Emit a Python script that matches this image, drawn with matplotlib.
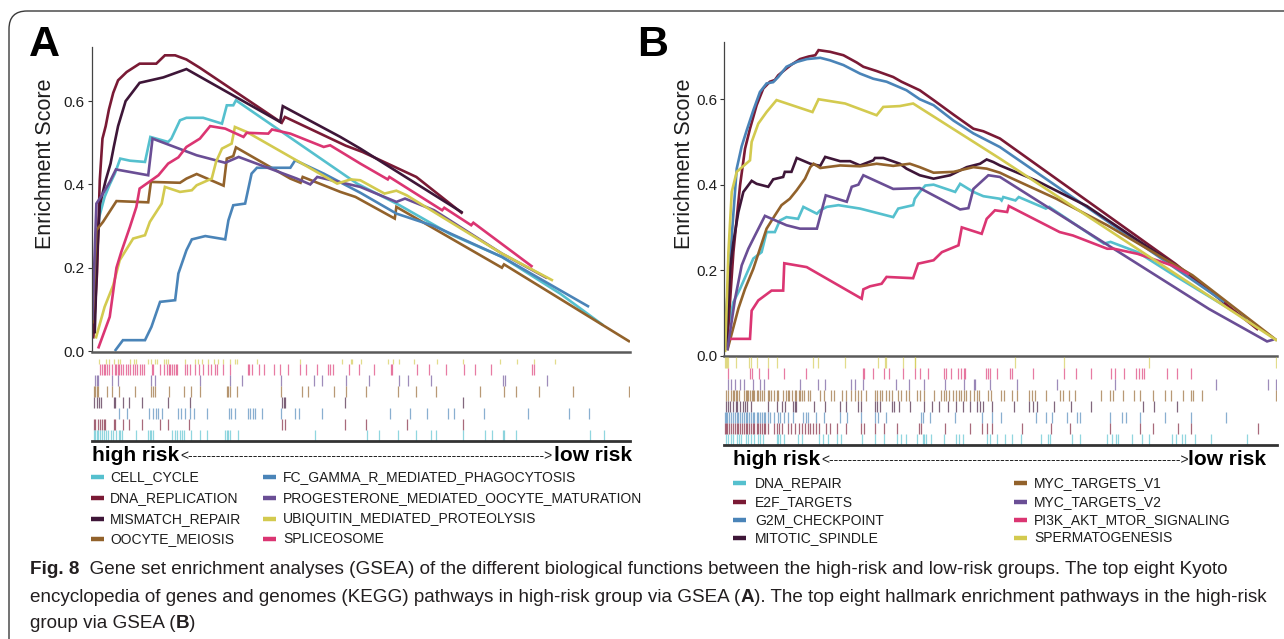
import matplotlib.pyplot as plt
from matplotlib.patches import FancyBboxPatch
from matplotlib import font_manager

plt.rcParams['font.family'] = ['Liberation Sans', 'DejaVu Sans']

# x values are position in the ranked gene list (% of list), y values are enrichment scores
# ---------------- panel A : KEGG ----------------
a_names = ["CELL_CYCLE", "DNA_REPLICATION", "MISMATCH_REPAIR", "OOCYTE_MEIOSIS",
           "FC_GAMMA_R_MEDIATED_PHAGOCYTOSIS", "PROGESTERONE_MEDIATED_OOCYTE_MATURATION",
           "UBIQUITIN_MEDIATED_PROTEOLYSIS", "SPLICEOSOME"]

a_cell_cycle_x = [0.1, 0.75, 1.4, 2.4, 3.35, 4.3, 5.3, 7.1, 9.9, 10.9, 14.2, 14.8, 16.4, 17.6, 20.7,
                  24.2, 25.1, 26.3, 26.8, 49.3, 57.2, 66.7, 76.2, 87.0, 95.0]
a_cell_cycle_es = [0.03, 0.234, 0.322, 0.37, 0.40, 0.426, 0.462, 0.457, 0.454, 0.514, 0.502, 0.51, 0.554,
                   0.56, 0.56, 0.546, 0.59, 0.59, 0.602, 0.402, 0.35, 0.28, 0.226, 0.138, 0.062]
a_dna_rep_x = [0.3, 1.0, 1.5, 2.0, 2.6, 3.2, 4.0, 4.9, 6.5, 8.9, 12.0, 13.6, 15.5, 17.6, 20.1, 35.3,
               35.9, 47.2, 50.3, 60.3, 68.9]
a_dna_rep_es = [0.03, 0.19, 0.41, 0.51, 0.54, 0.58, 0.62, 0.65, 0.67, 0.69, 0.69, 0.71, 0.71, 0.70,
                0.68, 0.548, 0.562, 0.493, 0.478, 0.418, 0.33]
a_mismatch_x = [0.56, 1.0, 1.5, 2.6, 3.5, 4.1, 4.9, 6.3, 8.9, 13.3, 17.6, 35.0, 35.5, 46.2, 49.9, 68.9]
a_mismatch_es = [0.042, 0.226, 0.35, 0.41, 0.45, 0.49, 0.54, 0.60, 0.644, 0.657, 0.677, 0.55, 0.588,
                 0.514, 0.486, 0.332]
a_oocyte_x = [0.13, 0.87, 2.1, 4.6, 10.5, 11.0, 16.4, 17.6, 19.5, 24.5, 25.1, 26.3, 26.8, 36.9, 38.8,
              39.2, 46.2, 49.0, 56.3, 56.6, 76.2, 76.6, 100.0]
a_oocyte_es = [0.066, 0.29, 0.31, 0.36, 0.357, 0.406, 0.404, 0.414, 0.425, 0.397, 0.462, 0.468, 0.489,
               0.414, 0.404, 0.418, 0.382, 0.37, 0.318, 0.346, 0.20, 0.208, 0.022]
a_fc_gamma_x = [4.3, 5.8, 9.9, 11.1, 12.7, 15.5, 16.1, 17.6, 18.6, 21.1, 24.8, 25.4, 26.3, 28.5, 29.7,
                30.7, 36.9, 37.8, 43.1, 49.9, 56.6, 63.6, 76.2, 92.4]
a_fc_gamma_es = [0.0, 0.026, 0.026, 0.058, 0.118, 0.122, 0.186, 0.242, 0.268, 0.276, 0.268, 0.314, 0.35,
                 0.354, 0.426, 0.44, 0.44, 0.458, 0.426, 0.38, 0.33, 0.30, 0.226, 0.106]
a_progest_x = [0.13, 0.87, 2.1, 3.35, 4.5, 10.5, 11.3, 19.5, 24.8, 27.3, 38.1, 40.6, 41.9, 49.9, 56.6,
               58.2, 63.6, 76.2, 84.6]
a_progest_es = [0.074, 0.354, 0.378, 0.406, 0.436, 0.422, 0.51, 0.47, 0.452, 0.466, 0.414, 0.40, 0.418,
                0.394, 0.358, 0.366, 0.338, 0.234, 0.175]
a_ubiquitin_x = [0.75, 2.4, 4.0, 5.2, 7.7, 9.9, 10.8, 13.0, 13.6, 16.4, 18.6, 19.5, 22.3, 23.1, 24.2,
                 26.0, 26.6, 28.8, 45.6, 48.1, 49.9, 54.4, 56.6, 58.5, 76.2, 85.7]
a_ubiquitin_es = [0.03, 0.106, 0.158, 0.218, 0.27, 0.278, 0.31, 0.354, 0.394, 0.382, 0.386, 0.398, 0.414,
                  0.454, 0.486, 0.498, 0.538, 0.526, 0.402, 0.412, 0.41, 0.378, 0.385, 0.374, 0.234, 0.169]
a_splice_x = [1.2, 3.35, 4.6, 5.5, 7.1, 8.3, 8.9, 11.1, 12.4, 14.2, 16.1, 17.6, 20.1, 22.0, 24.8, 28.2,
              28.8, 32.8, 33.5, 36.9, 43.1, 44.3, 49.9, 55.0, 55.3, 65.1, 65.5, 70.5, 70.9, 81.9]
a_splice_es = [0.006, 0.082, 0.20, 0.238, 0.298, 0.346, 0.39, 0.41, 0.422, 0.45, 0.465, 0.49, 0.51, 0.54,
               0.534, 0.514, 0.524, 0.522, 0.532, 0.522, 0.49, 0.494, 0.45, 0.412, 0.418, 0.338, 0.344,
               0.302, 0.308, 0.202]

a_cell_cycle_hits = [0.4, 0.7, 1.0, 1.2, 1.5, 1.9, 2.2, 2.7, 3.0, 3.5, 4.0, 4.5, 5.0, 5.3, 5.7, 8.3, 10.5,
                     10.8, 11.0, 11.4, 14.9, 15.5, 15.9, 16.4, 16.8, 17.2, 18.4, 20.2, 21.5, 24.8, 25.1,
                     25.4, 25.7, 27.2, 41.4, 51.2, 53.4, 56.9, 60.2, 63.0, 64.0, 68.9, 73.0, 74.3, 76.4,
                     76.6, 78.9, 92.6, 95.1]
a_dna_rep_hits = [0.4, 0.7, 1.1, 1.5, 1.9, 2.2, 2.5, 4.2, 4.4, 5.8, 7.0, 9.4, 12.7, 14.2, 18.1, 35.4,
                  35.9, 47.0, 51.0, 58.6, 68.9]
a_mismatch_hits = [0.4, 0.9, 1.3, 1.7, 4.2, 4.4, 5.8, 7.0, 9.4, 14.2, 18.2, 35.4, 35.7, 36.0, 47.0, 68.9]
a_oocyte_hits = [0.4, 0.7, 1.0, 1.2, 2.8, 3.8, 5.0, 8.1, 11.0, 11.4, 11.7, 14.3, 17.2, 18.4, 20.2, 25.1,
                 25.4, 25.7, 27.0, 35.2, 39.0, 40.1, 45.0, 47.3, 50.9, 56.9, 60.2, 64.0, 72.2, 76.6,
                 78.9, 83.1, 89.4, 99.9]
a_fc_gamma_hits = [5.0, 6.6, 10.7, 11.4, 12.0, 12.3, 13.0, 16.1, 16.6, 17.4, 18.2, 19.0, 21.5, 25.5,
                   25.9, 26.6, 29.0, 29.5, 30.0, 30.3, 31.6, 35.2, 37.8, 38.5, 42.7, 55.5, 59.1, 62.2,
                   66.1, 67.3, 72.8, 81.0, 88.7, 92.4]
a_progest_hits = [0.6, 0.9, 1.2, 3.7, 4.8, 11.0, 11.8, 20.2, 25.7, 28.0, 35.2, 41.3, 42.7, 47.3, 51.6,
                  57.1, 58.8, 63.0, 76.4, 76.7, 84.6]
a_ubiquitin_hits = [1.3, 2.7, 3.2, 4.2, 4.8, 5.3, 7.1, 7.8, 8.3, 10.4, 11.0, 11.7, 12.2, 13.5, 13.8,
                    14.2, 17.4, 19.2, 19.7, 20.5, 21.6, 22.8, 23.4, 24.4, 25.7, 26.7, 27.0, 30.8, 38.7,
                    46.5, 48.2, 48.4, 50.1, 55.0, 56.0, 57.1, 59.9, 64.1, 68.9, 75.8, 79.0, 82.2, 86.1]
a_splice_hits = [1.5, 1.9, 2.2, 2.5, 2.8, 3.3, 3.7, 4.4, 4.6, 4.9, 5.1, 5.5, 5.8, 6.3, 6.8, 7.1, 7.6,
                 8.1, 8.5, 8.9, 9.4, 9.7, 11.2, 11.4, 12.7, 13.5, 13.9, 14.3, 14.6, 14.9, 15.3, 15.6,
                 15.9, 17.4, 17.7, 18.2, 19.2, 20.0, 20.7, 21.6, 22.1, 22.9, 23.3, 24.4, 25.7, 29.0,
                 29.3, 29.7, 31.1, 32.0, 33.8, 34.9, 36.5, 38.7, 39.9, 41.8, 43.9, 44.2, 44.9, 47.8,
                 49.7, 52.4, 55.6, 55.8, 60.4, 62.7, 65.8, 69.1, 71.2, 74.1, 81.8, 82.2]

# ---------------- panel B : hallmark ----------------
b_names = ["DNA_REPAIR", "E2F_TARGETS", "G2M_CHECKPOINT", "MITOTIC_SPINDLE",
           "MYC_TARGETS_V1", "MYC_TARGETS_V2", "PI3K_AKT_MTOR_SIGNALING", "SPERMATOGENESIS"]

b_dna_repair_x = [0.4, 1.7, 2.9, 5.3, 6.8, 7.7, 9.2, 10.1, 11.3, 13.4, 14.35, 16.8, 17.4, 18.6, 20.7,
                  24.6, 27.0, 30.6, 31.5, 34.2, 34.5, 35.4, 36.4, 37.9, 41.8, 42.7, 45.1, 46.9, 49.9,
                  50.2, 50.5, 52.7, 53.3, 58.2, 58.8, 68.7, 69.9, 74.8, 81.0, 94.5]
b_dna_repair_es = [0.047, 0.125, 0.156, 0.227, 0.242, 0.289, 0.289, 0.316, 0.324, 0.32, 0.348, 0.332,
                   0.34, 0.348, 0.352, 0.344, 0.336, 0.324, 0.344, 0.352, 0.367, 0.383, 0.398, 0.40,
                   0.383, 0.402, 0.383, 0.373, 0.367, 0.363, 0.371, 0.363, 0.371, 0.344, 0.348, 0.262,
                   0.266, 0.242, 0.191, 0.085]
b_e2f_x = [0.5, 1.7, 2.9, 3.8, 4.7, 5.9, 7.1, 8.3, 9.2, 9.8, 11.3, 12.2, 13.75, 15.3, 16.5, 17.1, 19.2,
           21.6, 24.0, 25.2, 27.6, 30.6, 32.1, 35.4, 37.9, 41.5, 45.1, 46.9, 49.9, 81.6, 96.6]
b_e2f_es = [0.016, 0.242, 0.398, 0.484, 0.531, 0.586, 0.625, 0.641, 0.645, 0.656, 0.672, 0.681, 0.694,
            0.70, 0.703, 0.715, 0.711, 0.703, 0.686, 0.676, 0.666, 0.652, 0.641, 0.621, 0.598, 0.564,
            0.531, 0.525, 0.508, 0.215, 0.06]
b_g2m_x = [0.18, 1.4, 2.3, 3.2, 4.1, 5.3, 6.5, 7.7, 8.9, 9.8, 11.3, 13.2, 15.0, 17.4, 19.2, 21.6, 24.6,
           27.0, 29.4, 33.0, 35.4, 37.9, 41.5, 45.1, 49.9, 75.4, 90.5]
b_g2m_es = [0.0625, 0.28, 0.4375, 0.49, 0.527, 0.574, 0.617, 0.637, 0.64, 0.652, 0.676, 0.6875, 0.694,
            0.697, 0.691, 0.68, 0.66, 0.648, 0.641, 0.621, 0.60, 0.586, 0.55, 0.52, 0.488, 0.26, 0.125]
b_mitotic_x = [0.4, 1.1, 1.7, 2.6, 3.5, 5.0, 5.9, 8.0, 8.9, 10.7, 11.0, 12.2, 13.15, 15.6, 17.4, 18.3,
               21.0, 22.8, 24.6, 27.0, 27.3, 28.8, 31.8, 33.0, 35.4, 37.9, 40.9, 43.9, 46.3, 47.5,
               48.7, 49.9, 56.4, 65.6, 81.6]
b_mitotic_es = [0.02, 0.203, 0.266, 0.336, 0.383, 0.409, 0.402, 0.395, 0.4125, 0.418, 0.43, 0.43,
                0.4625, 0.449, 0.444, 0.465, 0.455, 0.455, 0.445, 0.457, 0.4625, 0.4625, 0.449, 0.4375,
                0.422, 0.414, 0.422, 0.441, 0.449, 0.459, 0.453, 0.445, 0.41, 0.35, 0.211]
b_myc1_x = [0.6, 2.6, 3.8, 5.3, 6.5, 7.7, 9.2, 10.4, 11.9, 13.15, 14.65, 15.6, 16.2, 17.4, 21.0, 24.6,
            27.6, 30.6, 33.6, 35.4, 37.9, 41.5, 45.1, 47.5, 49.9, 51.5, 60.1, 69.3, 84.7, 100.0]
b_myc1_es = [0.012, 0.11, 0.156, 0.203, 0.25, 0.297, 0.328, 0.352, 0.367, 0.387, 0.414, 0.441, 0.449,
             0.439, 0.445, 0.443, 0.449, 0.444, 0.449, 0.441, 0.428, 0.43, 0.441, 0.4375, 0.428, 0.418,
             0.367, 0.305, 0.188, 0.035]
b_myc2_x = [0.6, 2.0, 3.2, 4.4, 5.6, 7.4, 11.3, 13.75, 16.8, 18.4, 22.2, 23.1, 24.3, 25.2, 30.6, 35.4,
            42.7, 44.2, 45.1, 47.8, 49.9, 87.7, 98.2, 99.4]
b_myc2_es = [0.012, 0.133, 0.211, 0.25, 0.281, 0.327, 0.305, 0.297, 0.297, 0.375, 0.36, 0.395, 0.40,
             0.422, 0.39, 0.392, 0.342, 0.345, 0.39, 0.422, 0.418, 0.109, 0.033, 0.0375]
b_pi3k_x = [1.1, 4.7, 5.0, 6.2, 8.6, 10.7, 10.9, 14.95, 24.9, 25.2, 26.4, 28.5, 29.4, 34.2, 35.1, 37.9,
            39.4, 42.4, 43.0, 46.6, 47.5, 49.0, 51.2, 51.5, 60.7, 63.1, 69.3, 70.5, 74.8, 81.0, 84.1]
b_pi3k_es = [0.039, 0.039, 0.105, 0.129, 0.152, 0.152, 0.216, 0.207, 0.133, 0.155, 0.162, 0.168, 0.184,
             0.181, 0.215, 0.223, 0.242, 0.258, 0.30, 0.285, 0.32, 0.34, 0.336, 0.35, 0.289, 0.281,
             0.25, 0.25, 0.238, 0.211, 0.19]
b_spermato_x = [0.2, 0.8, 1.4, 2.3, 4.7, 5.0, 6.2, 7.7, 9.5, 16.0, 17.1, 21.9, 27.6, 28.8, 31.8, 34.2,
                49.9, 100.0]
b_spermato_es = [0.008, 0.242, 0.383, 0.43, 0.457, 0.50, 0.543, 0.57, 0.598, 0.57, 0.60, 0.59, 0.5625,
                 0.582, 0.584, 0.59, 0.461, 0.035]

b_dna_repair_hits = [0.3, 0.7, 1.3, 1.6, 2.3, 2.7, 3.1, 4.0, 4.4, 4.9, 5.5, 6.2, 6.5, 7.1, 9.5, 9.8,
                     10.2, 10.8, 13.3, 14.1, 17.1, 17.9, 18.8, 20.5, 21.2, 24.9, 27.3, 28.9, 31.3, 32.0,
                     32.9, 34.9, 35.9, 36.2, 36.6, 37.4, 39.7, 42.0, 42.5, 43.2, 47.5, 48.1, 49.4, 50.8,
                     52.1, 53.7, 57.4, 58.5, 59.0, 63.0, 64.3, 69.2, 70.2, 70.9, 71.2, 73.7, 75.5, 76.8,
                     81.1, 81.8, 82.8, 83.4, 85.1, 88.0, 94.5]
b_e2f_hits = [0.1, 0.3, 0.6, 0.9, 1.3, 1.6, 1.9, 2.3, 2.6, 2.9, 3.2, 3.6, 3.9, 4.2, 4.6, 4.9, 5.2, 5.5,
              5.9, 6.2, 6.5, 6.9, 7.2, 7.5, 7.9, 9.0, 9.5, 10.0, 10.5, 11.5, 12.2, 12.8, 13.5, 14.1,
              14.6, 15.1, 15.6, 16.1, 16.6, 17.1, 18.4, 19.1, 20.4, 22.1, 24.7, 25.4, 27.3, 29.0, 31.3,
              35.3, 35.6, 39.9, 44.5, 46.7, 47.5, 48.4, 53.9, 59.1, 62.5, 69.8, 75.2, 77.5, 82.1, 84.4,
              96.6]
b_g2m_hits = [0.1, 0.3, 0.6, 0.9, 1.3, 1.6, 1.9, 2.3, 2.6, 2.9, 3.2, 3.6, 3.9, 4.2, 4.6, 4.9, 5.2, 5.5,
              5.9, 6.2, 6.5, 6.9, 7.2, 7.5, 7.9, 8.4, 9.0, 9.7, 10.2, 10.8, 11.5, 12.5, 14.3, 14.8, 15.1,
              16.6, 18.1, 20.9, 22.2, 24.7, 27.3, 27.8, 29.3, 35.6, 35.9, 37.2, 41.7, 46.7, 48.4, 50.0,
              56.4, 58.3, 59.3, 62.1, 63.8, 64.3, 69.8, 72.0, 72.7, 75.2, 79.8, 84.4, 90.7]
b_mitotic_hits = [0.3, 0.7, 1.1, 1.6, 2.1, 2.4, 2.9, 3.4, 3.8, 4.2, 4.9, 7.9, 9.5, 10.5, 11.0, 12.5,
                  12.8, 13.1, 16.3, 18.3, 20.9, 22.1, 24.2, 24.7, 27.3, 27.7, 28.2, 30.4, 30.8, 31.6,
                  33.6, 36.1, 37.7, 38.9, 40.5, 41.9, 43.2, 44.5, 45.8, 46.3, 46.8, 48.4, 52.4, 55.1,
                  55.9, 56.6, 59.7, 62.8, 66.3, 75.8, 77.8, 81.9]
b_myc1_hits = [0.3, 0.7, 1.3, 1.6, 1.8, 2.1, 2.4, 2.7, 3.6, 3.9, 4.2, 4.4, 4.7, 5.0, 5.2, 5.5, 5.9, 6.2,
               6.5, 6.9, 7.2, 7.9, 8.2, 8.5, 9.0, 9.5, 9.8, 10.6, 11.2, 11.5, 11.8, 12.3, 12.8, 13.1,
               13.5, 13.8, 14.1, 14.5, 15.1, 15.6, 17.4, 18.1, 19.4, 19.9, 21.4, 22.1, 23.0, 23.7, 24.2,
               24.7, 25.7, 27.3, 27.7, 28.2, 28.6, 29.3, 29.8, 30.3, 31.4, 32.0, 32.9, 33.5, 34.9, 35.4,
               36.2, 37.9, 39.2, 39.7, 40.2, 40.7, 41.5, 42.0, 42.5, 42.8, 43.4, 43.8, 44.5, 45.2, 45.8,
               46.1, 47.8, 48.3, 50.0, 50.6, 52.0, 52.9, 55.2, 55.7, 56.2, 58.3, 60.7, 61.3, 62.3, 63.4,
               68.2, 69.8, 70.4, 72.2, 74.2, 75.2, 77.5, 79.8, 80.8, 83.0, 84.4, 84.9, 86.4, 99.9]
b_myc2_hits = [0.7, 1.3, 1.9, 2.9, 3.6, 5.2, 6.5, 7.3, 13.7, 17.0, 18.3, 23.0, 23.6, 25.2, 31.1, 33.5,
               36.1, 39.9, 43.4, 45.2, 45.4, 48.1, 52.9, 60.3, 70.7, 88.9, 98.4, 99.9]
b_pi3k_hits = [0.7, 4.7, 5.1, 6.4, 7.9, 10.8, 14.8, 25.2, 25.3, 26.9, 28.9, 29.8, 32.4, 34.6, 35.4,
               36.9, 39.7, 40.1, 41.0, 42.3, 42.8, 43.4, 43.6, 47.3, 47.7, 48.1, 49.4, 51.8, 52.0, 55.9,
               61.5, 63.6, 66.4, 69.9, 70.7, 72.4, 74.5, 75.0, 75.5, 76.0, 80.1, 81.9, 84.4]
b_spermato_hits = [0.1, 0.3, 0.5, 0.7, 2.1, 4.6, 4.9, 6.0, 7.9, 9.5, 16.1, 17.0, 21.9, 27.8, 29.1, 29.3,
                   32.3, 34.5, 34.6, 52.7, 61.5, 76.8, 99.9]

es_ticks = [0.0, 0.2, 0.4, 0.6]
es_tick_labels = ["0.0", "0.2", "0.4", "0.6"]

caption_lines = [
    [("Fig. 8", "bold"), ("  Gene set enrichment analyses (GSEA) of the different biological functions "
                          "between the high-risk and low-risk groups. The top eight Kyoto", "normal")],
    [("encyclopedia of genes and genomes (KEGG) pathways in high-risk group via GSEA (", "normal"),
     ("A", "bold"), ("). The top eight hallmark enrichment pathways in the high-risk", "normal")],
    [("group via GSEA (", "normal"), ("B", "bold"), (")", "normal")],
]

CYAN, DRED, DPUR, BROWN = "#55C0CE", "#7A1A35", "#3E1638", "#92622B"
BLUE, PURPLE, YELLOW, PINK = "#4A84B8", "#6A4E95", "#D3CA4F", "#DB3572"
a_colors = [CYAN, DRED, DPUR, BROWN, BLUE, PURPLE, YELLOW, PINK]
b_colors = [CYAN, DRED, BLUE, DPUR, BROWN, PURPLE, PINK, YELLOW]
rug_colors = [YELLOW, PINK, PURPLE, BROWN, DPUR, BLUE, DRED, CYAN]   # rug rows top -> bottom

a_curves = [(a_cell_cycle_x, a_cell_cycle_es), (a_dna_rep_x, a_dna_rep_es), (a_mismatch_x, a_mismatch_es),
            (a_oocyte_x, a_oocyte_es), (a_fc_gamma_x, a_fc_gamma_es), (a_progest_x, a_progest_es),
            (a_ubiquitin_x, a_ubiquitin_es), (a_splice_x, a_splice_es)]
a_hits = [a_cell_cycle_hits, a_dna_rep_hits, a_mismatch_hits, a_oocyte_hits, a_fc_gamma_hits,
          a_progest_hits, a_ubiquitin_hits, a_splice_hits]
b_curves = [(b_dna_repair_x, b_dna_repair_es), (b_e2f_x, b_e2f_es), (b_g2m_x, b_g2m_es),
            (b_mitotic_x, b_mitotic_es), (b_myc1_x, b_myc1_es), (b_myc2_x, b_myc2_es),
            (b_pi3k_x, b_pi3k_es), (b_spermato_x, b_spermato_es)]
b_hits = [b_dna_repair_hits, b_e2f_hits, b_g2m_hits, b_mitotic_hits, b_myc1_hits, b_myc2_hits,
          b_pi3k_hits, b_spermato_hits]

# ---------------- figure ----------------
W, H = 1284, 639
fig = plt.figure(figsize=(W / 100, H / 100), dpi=100)
fig.patch.set_facecolor('white')

# background axes in pixel units for frame, labels, legends and caption
bg = fig.add_axes([0, 0, 1, 1])
bg.set_xlim(0, W)
bg.set_ylim(H, 0)
bg.axis('off')
bg.add_patch(FancyBboxPatch((9, 11), 1500, 800, boxstyle="round,pad=0,rounding_size=18",
                            fc='none', ec='#3a3a3a', lw=1.0))

TXT = '#1e1e1e'


def px_axes(left, top, right, bottom):
    return fig.add_axes([left / W, 1 - bottom / H, (right - left) / W, (bottom - top) / H])


def draw_panel(box, rug_box, ylim, curves, hits, colors, short_top):
    ax = px_axes(*box)
    ax.set_facecolor('none')
    for i, (x, y) in enumerate(curves):
        ax.plot(x, y, color=colors[i], lw=1.9, solid_joinstyle='miter', solid_capstyle='butt')
    ax.set_xlim(0, 100)
    ax.set_ylim(*ylim)
    ax.set_xticks([])
    ax.set_yticks(es_ticks)
    ax.set_yticklabels(es_tick_labels)
    ax.tick_params(axis='y', length=3, width=0.8, pad=2, labelsize=11, colors='#333333',
                   labelcolor=TXT)
    ax.spines['top'].set_visible(False)
    ax.spines['right'].set_visible(False)
    ax.spines['left'].set_linewidth(0.9)
    ax.spines['left'].set_color('#444444')
    ax.spines['bottom'].set_linewidth(1.8)
    ax.spines['bottom'].set_color('#5a5a5a')

    rug = px_axes(*rug_box)
    rug.set_facecolor('none')
    for row, col in enumerate(rug_colors):
        i = colors.index(col)
        lo = row + 0.5 if (short_top and row == 0) else row
        rug.vlines(hits[i], lo, row + 1, color=col, lw=0.9, alpha=0.65)
    rug.set_xlim(0, 100)
    rug.set_ylim(8, 0)
    rug.set_xticks([])
    rug.set_yticks([])
    for s in ['top', 'left', 'right']:
        rug.spines[s].set_visible(False)
    rug.spines['bottom'].set_linewidth(2.0)
    rug.spines['bottom'].set_color('#333333')
    return ax


draw_panel((91.7, 47, 630, 352), (91.7, 353, 630, 441), (-0.0024, 0.730), a_curves, a_hits,
           a_colors, True)
draw_panel((724, 42, 1277, 356.5), (724, 357, 1277, 445), (-0.0023, 0.734), b_curves, b_hits,
           b_colors, False)

# panel letters and y labels
bg.text(29, 45, "A", fontsize=31, fontweight='bold', ha='left', va='center', color='black')
bg.text(637, 45, "B", fontsize=31, fontweight='bold', ha='left', va='center', color='black')
bg.text(46, 164, "Enrichment Score", rotation=90, fontsize=15.5, ha='center', va='center', color=TXT)
bg.text(685, 164, "Enrichment Score", rotation=90, fontsize=15.5, ha='center', va='center', color=TXT)

renderer = fig.canvas.get_renderer()


def text_width(s, **kw):
    t = bg.text(0, 100, s, **kw)
    w = t.get_window_extent(renderer).width
    t.remove()
    return w


def risk_label(x0, x1, y):
    t1 = bg.text(x0, y, "high risk", fontsize=15, fontweight='bold', ha='left', va='baseline', color='black')
    t2 = bg.text(x1, y, "low risk", fontsize=15, fontweight='bold', ha='right', va='baseline', color='black')
    left = t1.get_window_extent(renderer).x1 + 1
    right = t2.get_window_extent(renderer).x0 - 1
    w0 = text_width("<>", fontsize=10)
    per = (text_width("<" + "-" * 50 + ">", fontsize=10) - w0) / 50
    n = int(round((right - left - w0) / per))
    bg.text(left, y - 1, "<" + "-" * n + ">", fontsize=10, ha='left', va='baseline', color=TXT)


risk_label(92, 632, 461)
risk_label(733, 1266, 465)


def legend(names, colors, key_x, text_x, rows_y):
    for i, name in enumerate(names):
        col, r = divmod(i, 4)
        y = rows_y[r]
        bg.plot([key_x[col], key_x[col] + 13], [y, y], color=colors[i], lw=3.2, solid_capstyle='butt')
        bg.text(text_x[col], y, name, fontsize=10, ha='left', va='center', color=TXT)


legend(a_names, a_colors, [91, 263], [110, 283], [477, 498, 519, 539])
legend(b_names, b_colors, [733, 1014], [755, 1034], [483, 502, 520, 538])

# caption
names_avail = {f.name for f in font_manager.fontManager.ttflist}
cap_family = ['Liberation Sans Narrow', 'Liberation Sans'] if 'Liberation Sans Narrow' in names_avail \
    else ['Liberation Sans']


def runs_width(runs, size):
    return sum(text_width(s, fontsize=size, fontweight=wt, family=cap_family) for s, wt in runs)


cap_size = min(12 * 1220 / runs_width(caption_lines[0], 12),
               12 * 1244 / runs_width(caption_lines[1], 12))
for line, y in zip(caption_lines, [570, 597, 623]):
    x = 30
    for s, wt in line:
        t = bg.text(x, y, s, fontsize=cap_size, fontweight=wt, family=cap_family,
                    ha='left', va='center', color='#231f20')
        x += t.get_window_extent(renderer).width

fig.savefig('out.png', dpi=100, facecolor='white')
